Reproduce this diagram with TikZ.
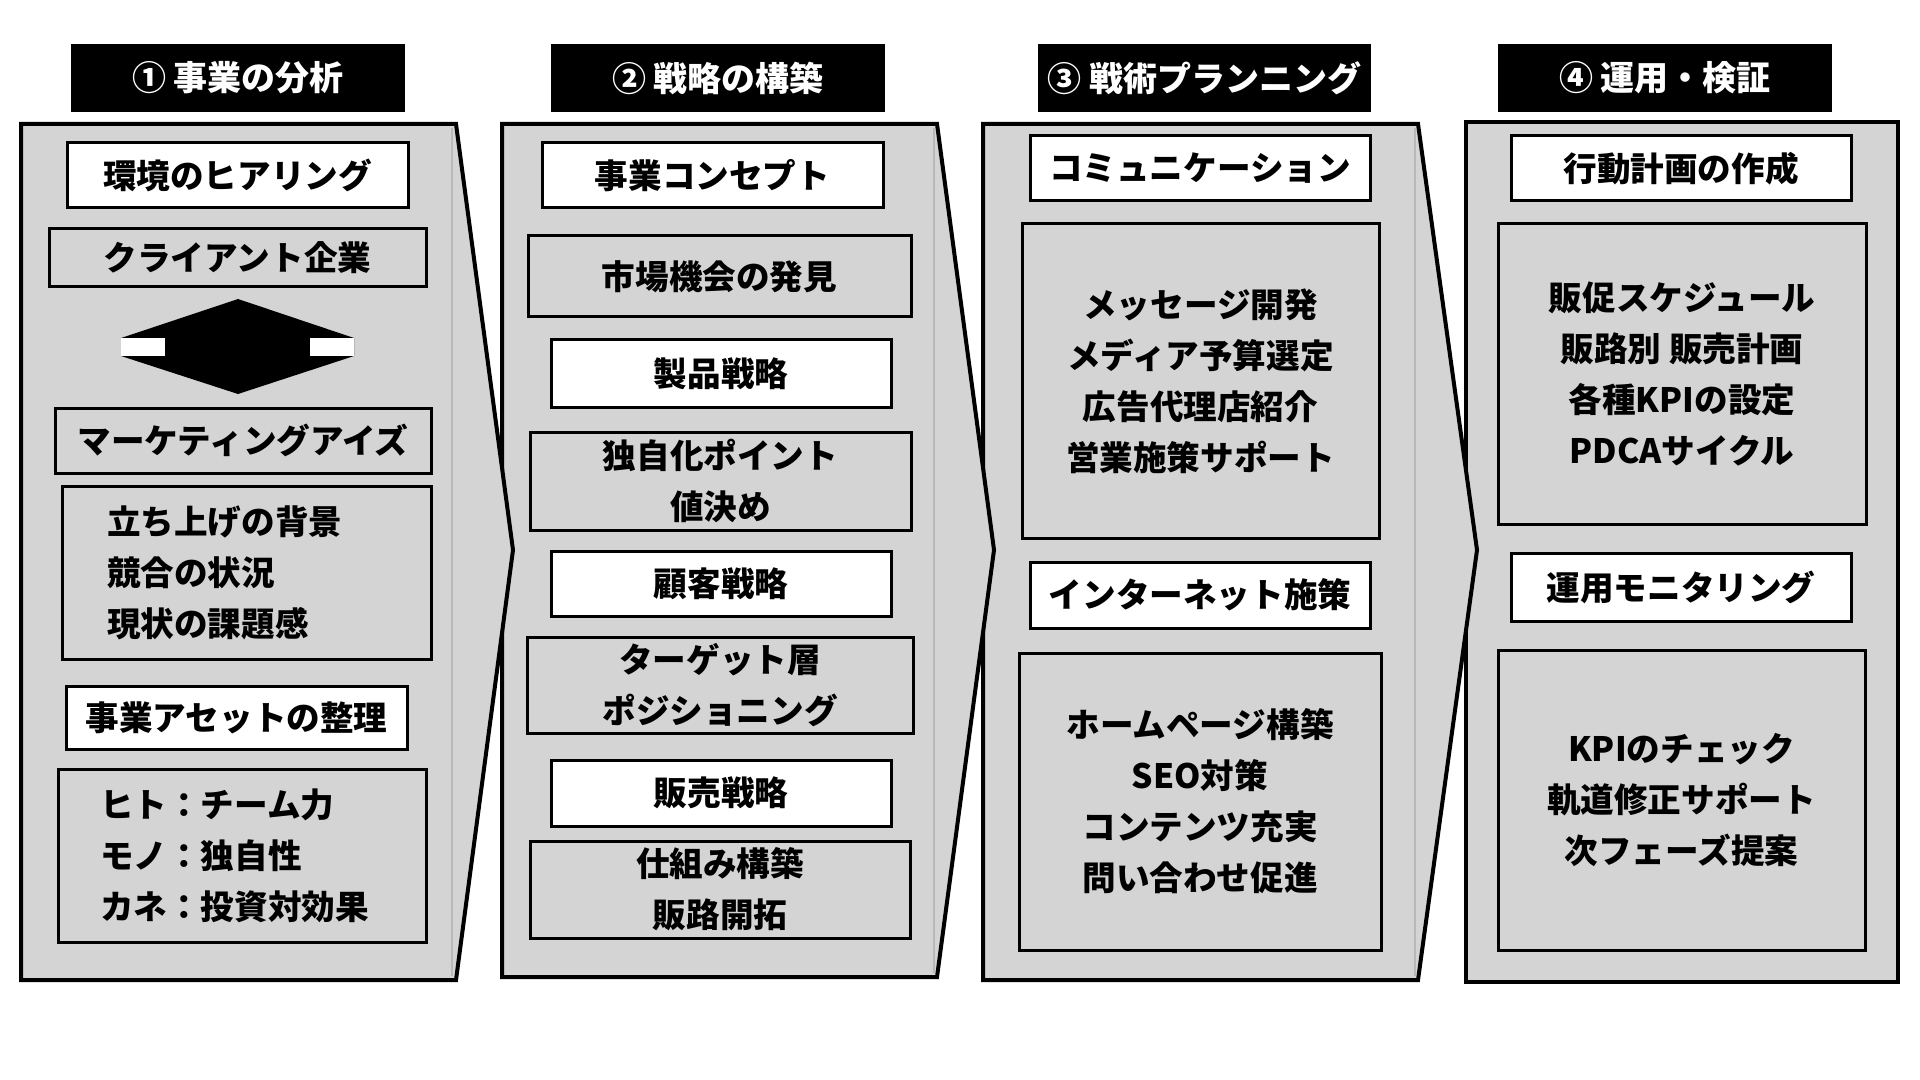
\documentclass[tikz,border=0pt]{standalone}
\usepackage{fontspec}
\setmainfont{Noto Sans CJK JP}
\definecolor{panelgray}{RGB}{212,212,212}
\newcommand\placebox[7]{%
  \node[#1, minimum width={(#5-#3)*0.5pt}, minimum height={(#6-#4)*0.5pt}] (#2) at ({(#3+#5)/2},{(#4+#6)/2}) {#7};}
\begin{document}
\begin{tikzpicture}[x=0.5pt,y=-0.5pt,
  panel/.style={fill=panelgray, draw=black, line width=2pt, line join=miter},
  edgeline/.style={draw=gray!55, line width=0.6pt},
  txt/.style={font=\fontsize{16.8pt}{25.5pt}\selectfont\bfseries, text=black},
  wbox/.style={txt, draw=black, fill=white, line width=1.5pt, inner sep=0pt, align=center},
  gbox/.style={txt, draw=black, fill=panelgray, line width=1.5pt, inner sep=0pt, align=center},
  lbox/.style={gbox, align=left},
  hdr/.style={fill=black, text=white, inner sep=0pt, font=\fontsize{17pt}{20pt}\selectfont\bfseries}]
\useasboundingbox (0,0) rectangle (1920,1080);
\fill[white] (0,0) rectangle (1920,1080);

% headers
\placebox{hdr}{h1}{71}{44}{405}{112}{① 事業の分析}
\placebox{hdr}{h2}{551}{44}{885}{112}{② 戦略の構築}
\placebox{hdr}{h3}{1038}{44}{1371}{112}{③ 戦術プランニング}
\placebox{hdr}{h4}{1498}{44}{1832}{112}{④ 運用・検証}

% panel 4
\draw[panel] (1466,122) rectangle (1898,982);
\placebox{wbox}{p4a}{1511}{136}{1851}{201}{行動計画の作成}
\placebox{gbox}{p4b}{1498}{224}{1866}{524}{販促スケジュール\\販路別 販売計画\\各種KPIの設定\\PDCAサイクル}
\placebox{wbox}{p4c}{1511}{553}{1851}{621}{運用モニタリング}
\placebox{gbox}{p4d}{1498}{650}{1865}{950}{KPIのチェック\\軌道修正サポート\\次フェーズ提案}

% panel 3
\draw[panel] (983,124) -- (1418,124) -- (1477,550) -- (1418,980) -- (983,980) -- cycle;
\draw[edgeline] (1415,128) -- (1415,976);
\placebox{wbox}{p3a}{1030}{136}{1370}{201}{コミュニケーション}
\placebox{gbox}{p3b}{1022}{224}{1379}{538}{メッセージ開発\\メディア予算選定\\広告代理店紹介\\営業施策サポート}
\placebox{wbox}{p3c}{1030}{562}{1370}{628}{インターネット施策}
\placebox{gbox}{p3d}{1019}{653}{1381}{950}{ホームページ構築\\SEO対策\\コンテンツ充実\\問い合わせ促進}

% panel 2
\draw[panel] (502,124) -- (937,124) -- (994,550) -- (937,977) -- (502,977) -- cycle;
\draw[edgeline] (934,128) -- (934,973);
\placebox{wbox}{p2a}{542}{143}{883}{208}{事業コンセプト}
\placebox{gbox}{p2b}{528}{236}{911}{317}{市場機会の発見}
\placebox{wbox}{p2c}{551}{340}{891}{407}{製品戦略}
\placebox{gbox}{p2d}{530}{432}{911}{530}{独自化ポイント\\値決め}
\placebox{wbox}{p2e}{551}{551}{891}{616}{顧客戦略}
\placebox{gbox}{p2f}{527}{637}{913}{733}{ターゲット層\\ポジショニング}
\placebox{wbox}{p2g}{551}{760}{891}{826}{販売戦略}
\placebox{gbox}{p2h}{530}{841}{910}{938}{仕組み構築\\販路開拓}

% panel 1
\draw[panel] (21,124) -- (456,124) -- (513,550) -- (456,980) -- (21,980) -- cycle;
\draw[edgeline] (452,128) -- (452,976);
\placebox{wbox}{p1a}{67}{143}{408}{208}{環境のヒアリング}
\placebox{gbox}{p1b}{49}{229}{426}{287}{クライアント企業}
\fill[black] (238,299) -- (354,338) -- (354,356) -- (238,394) -- (121,356) -- (121,338) -- cycle;
\fill[white] (121,338) rectangle (165,356);
\fill[white] (310,338) rectangle (354,356);
\placebox{gbox}{p1c}{55}{408}{431}{473}{マーケティングアイズ}
\placebox{lbox, text width=139.5pt, inner xsep=22.5pt}{p1d}{62}{486}{431}{659}{立ち上げの背景\\競合の状況\\現状の課題感}
\placebox{wbox}{p1e}{66}{686}{407}{749}{事業アセットの整理}
\placebox{lbox, text width=142pt, inner xsep=21pt}{p1f}{58}{769}{426}{942}{ヒト：チーム力\\モノ：独自性\\カネ：投資対効果}
\end{tikzpicture}
\end{document}
